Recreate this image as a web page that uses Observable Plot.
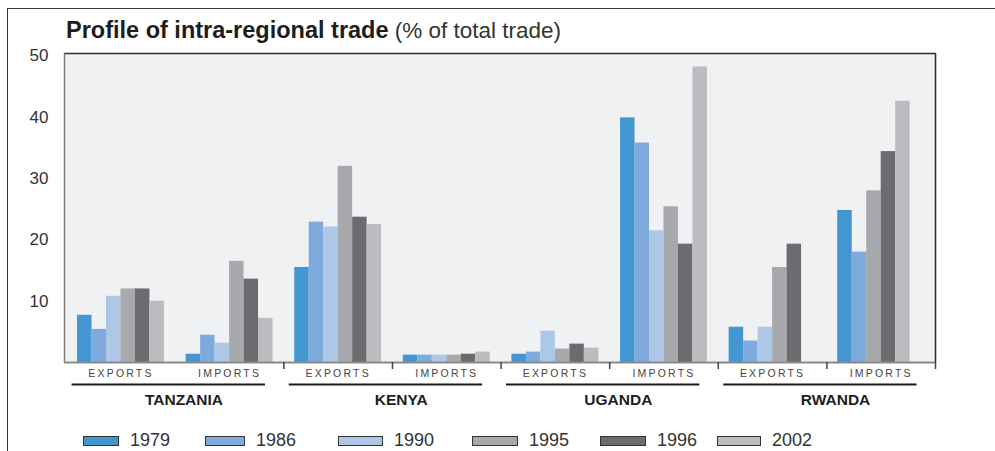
<!DOCTYPE html>
<html>
<head>
<meta charset="utf-8">
<script src="https://cdn.jsdelivr.net/npm/d3@7"></script>
<script src="https://cdn.jsdelivr.net/npm/@observablehq/plot@0.6"></script>
<style>
  body { margin: 0; background: #fff; font-family: "Liberation Sans", Arial, sans-serif; }
  #page { position: relative; width: 995px; height: 451px; overflow: hidden; }
  #box { position: absolute; left: 7px; top: 8px; width: 1200px; height: 800px;
         border-left: 1.5px solid #3a3a3a; border-top: 1.5px solid #3a3a3a; }
  #title { position: absolute; left: 66px; top: 19px; font-size: 23.5px; line-height: 23.5px;
           color: #1d1d1d; white-space: nowrap; }
  #title b { font-weight: bold; }
  #title span { font-size: 22.5px; color: #333; }
  #chart { position: absolute; left: 0; top: 45px; }
  .sw { position: absolute; top: 436px; height: 10px; box-sizing: border-box; border: 1px solid #333; }
  .lab { position: absolute; top: 431px; font-size: 18px; line-height: 18px; color: #333; white-space: nowrap; }
</style>
</head>
<body>
<div id="page">
  <div id="box"></div>
  <div id="title"><b>Profile of intra-regional trade</b><span> (% of total trade)</span></div>
  <div id="chart"></div>
  <div id="legend"></div>
</div>
<script>
// ---- data ----
const countries = ["TANZANIA", "KENYA", "UGANDA", "RWANDA"];
const flows = ["EXPORTS", "IMPORTS"];
const years = ["1979", "1986", "1990", "1995", "1996", "2002"];
const yearColors = ["#4496d2", "#7eabdb", "#adc8e7", "#a8a9ad", "#6b6c70", "#bbbcc0"];
const yTicks = [10, 20, 30, 40, 50];

const tanzaniaExports = [7.7, 5.4, 10.8, 12.0, 12.0, 10.0];
const tanzaniaImports = [1.35, 4.45, 3.15, 16.5, 13.6, 7.2];
const kenyaExports    = [15.5, 22.9, 22.1, 32.0, 23.7, 22.5];
const kenyaImports    = [1.2, 1.2, 1.2, 1.2, 1.35, 1.7];
const ugandaExports   = [1.35, 1.7, 5.1, 2.2, 3.0, 2.35];
const ugandaImports   = [39.9, 35.8, 21.5, 25.4, 19.3, 48.2];
const rwandaExports   = [5.75, 3.5, 5.75, 15.5, 19.3, null];
const rwandaImports   = [24.8, 18.0, null, 28.0, 34.4, 42.6];

// ---- build table ----
const series = [tanzaniaExports, tanzaniaImports, kenyaExports, kenyaImports,
                ugandaExports, ugandaImports, rwandaExports, rwandaImports];
const rows = [];
series.forEach((vals, g) => {
  let slot = 0;
  vals.forEach((v, i) => {
    if (v == null) return;
    rows.push({g, slot: slot++, year: years[i], value: v});
  });
});
const groups = d3.range(series.length);
const countryIdx = d3.range(countries.length);
const boundaries = groups.slice(2).concat([groups.length]);

const xDomain = [-0.02, groups.length];
const yDomain = [0, 50.4];
const pad = 0.1, bw = 0.8 / years.length;

const plot = Plot.plot({
  width: 995,
  height: 370,
  marginLeft: 64,
  marginRight: 60,
  marginTop: 8,
  marginBottom: 53,
  style: {fontFamily: "'Liberation Sans', Arial, sans-serif", fontSize: "17px", color: "#333", background: "transparent"},
  x: {domain: xDomain, axis: null},
  y: {domain: yDomain, ticks: yTicks, tickSize: 0, tickPadding: 16, label: null},
  color: {domain: years, range: yearColors},
  marks: [
    Plot.frame({fill: "#f0f1f3", stroke: null}),
    Plot.rect(rows, {
      x1: d => d.g + pad + d.slot * bw,
      x2: d => d.g + pad + (d.slot + 1) * bw,
      y1: () => 0,
      y2: "value",
      fill: "year"
    }),
    Plot.ruleY([yDomain[1]], {stroke: "#2e2e2e", strokeWidth: 1.6}),
    Plot.ruleX([xDomain[1]], {stroke: "#2e2e2e", strokeWidth: 1.6}),
    Plot.ruleX([xDomain[0]], {stroke: "#7a7a7a", strokeWidth: 1.5}),
    Plot.ruleY([0], {stroke: "#8a8a8a", strokeWidth: 2}),
    Plot.ruleX(boundaries, {x: d => d, y1: () => 0, y2: () => 0, insetBottom: -7, stroke: "#444", strokeWidth: 1.5}),
    Plot.text(groups, {x: g => g + 0.5, y: () => 0, dy: 11, text: g => flows[g % 2],
                       fontSize: 10.5, fill: "#444"}),
    Plot.ruleY(countryIdx, {x1: c => 2 * c + 0.05, x2: c => 2 * c + 1.83, y: () => 0, dy: 22,
                            stroke: "#1a1a1a", strokeWidth: 2.2}),
    Plot.text(countryIdx, {x: c => 2 * c + 1.08, y: () => 0, dy: 38, text: c => countries[c],
                           fontSize: 15.5, fontWeight: "bold", fill: "#1d1d1d"})
  ]
});
d3.select(plot).selectAll("text")
  .filter(function() { return flows.includes(this.textContent); })
  .attr("letter-spacing", "2.2px");
document.getElementById("chart").appendChild(plot);

// ---- legend ----
const legendLeft = [83, 205, 338, 472, 600, 717];
const swatchWidth = [36, 40, 45, 46, 46, 44];
const legend = document.getElementById("legend");
years.forEach((y, i) => {
  const sw = document.createElement("div");
  sw.className = "sw";
  sw.style.left = legendLeft[i] + "px";
  sw.style.width = swatchWidth[i] + "px";
  sw.style.background = yearColors[i];
  legend.appendChild(sw);
  const lb = document.createElement("div");
  lb.className = "lab";
  lb.style.left = (legendLeft[i] + swatchWidth[i] + 11) + "px";
  lb.textContent = y;
  legend.appendChild(lb);
});
</script>
</body>
</html>
